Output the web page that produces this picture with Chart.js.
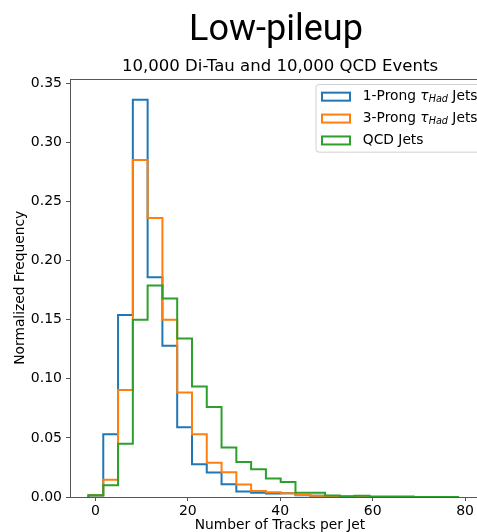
<!DOCTYPE html>
<html>
<head>
<meta charset="utf-8">
<script src="https://cdn.jsdelivr.net/npm/chart.js@4.4.0/dist/chart.umd.min.js"></script>
<style>
    html, body { margin: 0; padding: 0; background: #fff; overflow: hidden; }
    #wrap { width: 552px; height: 532px; }
</style>
</head>
<body>
<div id="wrap"><canvas id="graph" width="552" height="532"></canvas></div>
<script>
/* DONNEES DE L'HISTOGRAMME */

// bords des 25 classes (nombre de traces)
var binEdges = [-1.5, 1.7, 4.9, 8.1, 11.3, 14.5, 17.7, 20.9, 24.1, 27.3, 30.5, 33.7, 36.9,
                40.1, 43.3, 46.5, 49.7, 52.9, 56.1, 59.3, 62.5, 65.7, 68.9, 72.1, 75.3, 78.5];

var seriesLabels = ["1-Prong τ_{Had} Jets", "3-Prong τ_{Had} Jets", "QCD Jets"];
var seriesColors = ["#1f77b4", "#ff7f0e", "#2ca02c"];

var oneProng = [0.0012, 0.053, 0.154, 0.336, 0.186, 0.128, 0.059, 0.0278, 0.0208, 0.0108, 0.0047, 0.0037, 0.0029,
                0.0032, 0.0014, 0.0010, 0.0004, 0.0003, 0.0002, 0.0001, 0.0001, 0.0001, 0, 0, 0];
var threeProng = [0.0015, 0.0145, 0.0905, 0.285, 0.236, 0.150, 0.0885, 0.0530, 0.0290, 0.0210, 0.0105, 0.0050, 0.0040,
                  0.0032, 0.0016, 0.0010, 0.0004, 0.0002, 0.0002, 0.0001, 0.0001, 0, 0, 0, 0];
var qcdJets = [0.0015, 0.0100, 0.0450, 0.150, 0.179, 0.168, 0.134, 0.0935, 0.0762, 0.0418, 0.0297, 0.0235, 0.0156,
               0.0127, 0.0037, 0.0037, 0.0012, 0.0006, 0.0011, 0.0004, 0.0004, 0.0004, 0.0001, 0, 0.0001];

var xTicks = [0, 20, 40, 60, 80];
var yTicks = [0, 0.05, 0.10, 0.15, 0.20, 0.25, 0.30, 0.35];

var FONT = '"DejaVu Sans", sans-serif';
var BASE = 13.8;

/* ---------------------------------------------------------------------- */

// contour en escalier façon histtype='step'
function stepPoints(values) {
    var pts = [{x: binEdges[0], y: 0}];
    for (var i = 0; i < values.length; i++) {
        pts.push({x: binEdges[i], y: values[i]});
    }
    pts.push({x: binEdges[binEdges.length - 1], y: 0});
    return pts;
}

function plainLabel(t) {
    return t.replace(/_\{(.*?)\}/, "$1");
}

// texte avec tau en italique et indice "Had"
function richText(ctx, text, x, y, fs, draw) {
    var m = text.match(/^(.*?)(τ)_\{(.*?)\}(.*)$/);
    var parts;
    if (m) {
        parts = [
            {t: m[1], f: fs + "px " + FONT, dy: 0},
            {t: m[2], f: "italic " + fs + "px " + FONT, dy: 0},
            {t: m[3], f: "italic " + (fs * 0.7) + "px " + FONT, dy: fs * 0.22},
            {t: m[4], f: fs + "px " + FONT, dy: 0}
        ];
    } else {
        parts = [{t: text, f: fs + "px " + FONT, dy: 0}];
    }
    var cx = x;
    parts.forEach(function (p) {
        ctx.font = p.f;
        if (draw) ctx.fillText(p.t, cx, y + p.dy);
        cx += ctx.measureText(p.t).width;
    });
    return cx - x;
}

/* Cadre complet des axes (les 4 côtés) */
var spines = {
    id: "spines",
    afterDatasetsDraw: function (chart) {
        var a = chart.chartArea;
        var ctx = chart.ctx;
        ctx.save();
        ctx.strokeStyle = "#555";
        ctx.lineWidth = 1;
        ctx.strokeRect(Math.round(a.left) + 0.5, Math.round(a.top) + 0.5,
                       Math.round(a.right - a.left), Math.round(a.bottom - a.top));
        ctx.restore();
    }
};

/* Légende dessinée à la main pour l'indice */
var stepLegend = {
    id: "stepLegend",
    afterDraw: function (chart) {
        var ctx = chart.ctx;
        var a = chart.chartArea;
        var fs = BASE;
        var rowH = 21.9;
        ctx.save();
        var textW = 0;
        seriesLabels.forEach(function (t) {
            textW = Math.max(textW, richText(ctx, t, 0, 0, fs, false));
        });
        var boxW = 47.3 + textW + 5.5;
        var boxH = 67.7;
        var x0 = a.right - 7 - boxW;
        var y0 = a.top + 5.4;

        ctx.beginPath();
        ctx.roundRect(x0 + 0.5, y0 + 0.5, boxW, boxH, 3);
        ctx.fillStyle = "rgba(255,255,255,0.8)";
        ctx.fill();
        ctx.strokeStyle = "#d0d0d0";
        ctx.lineWidth = 1;
        ctx.stroke();

        seriesLabels.forEach(function (t, i) {
            var cy = y0 + 12.7 + i * rowH;
            ctx.strokeStyle = seriesColors[i];
            ctx.lineWidth = 2;
            ctx.strokeRect(x0 + 6.5, cy - 4, 28, 8);
            ctx.fillStyle = "#000";
            ctx.textBaseline = "middle";
            ctx.textAlign = "left";
            richText(ctx, t, x0 + 47.3, cy, fs, true);
        });
        ctx.restore();
    }
};

/* ---------------------------------------------------------------------- */

var allSeries = [oneProng, threeProng, qcdJets];

var graph = document.getElementById("graph").getContext("2d");

var myChart = new Chart(graph, {
    type: "line",
    data: {
        datasets: allSeries.map(function (vals, i) {
            return {
                label: plainLabel(seriesLabels[i]),
                data: stepPoints(vals),
                stepped: "before",
                borderColor: seriesColors[i],
                borderWidth: 2,
                pointRadius: 0,
                fill: false,
                order: 3 - i,
            };
        }),
    },
    options: {
        responsive: false,
        animation: false,
        layout: {
            padding: 0,
        },
        scales: {
            x: {
                type: "linear",
                min: -5.5,
                max: 85.4,
                afterFit: function (s) { s.height = 35; },
                afterBuildTicks: function (s) {
                    s.ticks = xTicks.map(function (v) { return {value: v}; });
                },
                ticks: {
                    color: "#000",
                    padding: 1.5,
                    font: {family: FONT, size: 14},
                    callback: function (v) { return String(v); },
                },
                grid: {
                    drawOnChartArea: false,
                    drawTicks: true,
                    tickLength: 4,
                    tickColor: "#555",
                },
                border: {display: false},
                title: {
                    display: true,
                    text: "Number of Tracks per Jet",
                    color: "#000",
                    font: {family: FONT, size: BASE, lineHeight: 1.0},
                    padding: {top: 0, bottom: 0},
                },
            },
            y: {
                type: "linear",
                min: 0,
                max: 0.354,
                afterFit: function (s) { s.width = 70; },
                afterBuildTicks: function (s) {
                    s.ticks = yTicks.map(function (v) { return {value: v}; });
                },
                ticks: {
                    color: "#000",
                    padding: 4,
                    font: {family: FONT, size: 14},
                    callback: function (v) { return v.toFixed(2); },
                },
                grid: {
                    drawOnChartArea: false,
                    drawTicks: true,
                    tickLength: 4,
                    tickColor: "#555",
                },
                border: {display: false},
                title: {
                    display: true,
                    text: "Normalized Frequency",
                    color: "#000",
                    font: {family: FONT, size: BASE, lineHeight: 1.2},
                    padding: {top: 12.6, bottom: 0},
                },
            },
            // marge droite de la figure (axe vide)
            yRight: {
                type: "linear",
                position: "right",
                display: true,
                afterFit: function (s) { s.width = 62; },
                ticks: {display: false},
                grid: {display: false},
                border: {display: false},
            },
        },
        plugins: {
            legend: {display: false},
            tooltip: {enabled: false},
            title: {
                display: true,
                text: "Low-pileup",
                color: "#000",
                font: {family: "Roboto, sans-serif", size: 36, weight: "normal", lineHeight: 1.2},
                padding: {top: 9, bottom: 0},
            },
            subtitle: {
                display: true,
                fullSize: false,
                text: "10,000 Di-Tau and 10,000 QCD Events",
                color: "#000",
                font: {family: FONT, size: 16.55, weight: "normal", lineHeight: 1.2},
                padding: {top: 5, bottom: 1.5},
            },
        },
    },
    plugins: [spines, stepLegend],
});
</script>
</body>
</html>
